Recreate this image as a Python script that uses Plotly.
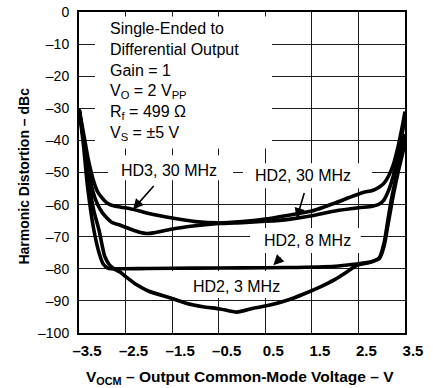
import plotly.graph_objects as go

# ---------------- data ----------------
vocm_hd3_30 = [-3.5, -3.4, -3.3, -3.2, -3.1, -3.0, -2.9, -2.8, -2.6, -2.4, -2.2, -2.0, -1.5, -1.0,
               -0.5, 0.0, 0.5, 1.0, 1.5, 2.0, 2.3, 2.6, 2.8, 2.95, 3.05, 3.15, 3.25, 3.35, 3.45, 3.5]
hd3_30 = [-30, -38, -46, -52, -56, -58, -59.5, -60.2, -60.8, -61.3, -62.0, -62.8, -64.2, -65.3,
          -65.7, -65.3, -64.5, -63.3, -62.0, -59.5, -57.8, -56.2, -55.6, -54.5, -53.3, -51, -47.5,
          -42, -35, -31]

vocm_hd2_30 = [-3.5, -3.4, -3.3, -3.2, -3.1, -3.0, -2.9, -2.8, -2.6, -2.4, -2.2, -2.05, -1.9, -1.5,
               -1.0, -0.5, 0.0, 0.5, 1.0, 1.5, 2.0, 2.5, 2.8, 2.95, 3.05, 3.15, 3.25, 3.35, 3.45, 3.5]
hd2_30 = [-30, -40, -49, -56, -60, -62.5, -64.2, -65.5, -66.5, -67.6, -68.6, -69.0, -68.8, -67.6,
          -66.6, -65.9, -65.6, -65.2, -64.6, -63.5, -62.0, -61.0, -60.5, -59.8, -58.5, -55.5, -51,
          -45, -37, -33]

vocm_hd2_8 = [-3.5, -3.4, -3.32, -3.18, -3.07, -2.98, -2.88, -2.8, -2.5, -2.0, -1.0, 0.0, 1.0, 2.0,
              2.4, 2.75, 2.95, 3.05, 3.12, 3.2, 3.3, 3.4, 3.5]
hd2_8 = [-30, -42, -54, -68, -75, -78.5, -79.8, -80, -80, -79.9, -79.8, -79.7, -79.6, -79.2,
         -78.6, -77.9, -76.5, -72, -66, -59, -52, -45.5, -38]

vocm_hd2_3 = [-3.5, -3.4, -3.28, -3.18, -3.07, -2.95, -2.86, -2.75, -2.62, -2.49, -2.26, -2.0, -1.55,
              -1.2, -0.84, -0.47, -0.11, 0.24, 0.6, 0.97, 1.3, 1.67, 2.0, 2.25, 2.47, 2.75, 2.95,
              3.05, 3.15, 3.25, 3.35, 3.45, 3.5]
hd2_3 = [-30, -40, -54, -62, -68, -76, -78.5, -80, -81, -82.5, -85, -87, -89, -90.7, -91.8, -92.5,
         -93.5, -92.3, -91.3, -89.8, -88, -85.7, -83.3, -81, -78.9, -78, -76.8, -73, -65, -57,
         -50, -44, -40]

x_ticks = [-3.5, -2.5, -1.5, -0.5, 0.5, 1.5, 2.5, 3.5]
x_tick_text = ["–3.5", "–2.5", "–1.5", "–0.5", "0.5", "1.5", "2.5", "3.5"]
y_ticks = [0, -10, -20, -30, -40, -50, -60, -70, -80, -90, -100]
y_tick_text = ["0", "–10", "–20", "–30", "–40", "–50", "–60", "–70", "–80", "–90", "–100"]

cond_lines = ["Single-Ended to", "Differential Output", "Gain = 1",
              "V<sub>O</sub> = 2 V<sub>PP</sub>", "R<sub>f</sub> = 499 Ω", "V<sub>S</sub> = ±5 V"]
cond_y = [-5.2, -11.7, -18.2, -24.7, -31.2, -37.7]

series_labels = ["HD3, 30 MHz", "HD2, 30 MHz", "HD2, 8 MHz", "HD2, 3 MHz"]
label_pos = [(-1.557, -49.3), (1.30, -50.9), (1.407, -71.1), (-0.118, -85.6)]
arrow_tips = [(-2.34, -61.5), (1.175, -64.3), (0.672, -78.9)]
arrow_tails_px = [(22, -25), (8, -27), (9, -9)]

# masking boxes (white areas behind text, hiding gridlines)
mask_boxes = [(-3.156, 0.644, -1.4, -42.5),
              (-2.877, -0.193, -44.6, -52.4),
              (0.022, 2.79, -47.1, -54.9),
              (0.172, 2.55, -67.3, -75.1),
              (-1.653, 1.203, -80.7, -89.1)]

FONT = "Liberation Sans, Arial, Helvetica, sans-serif"

fig = go.Figure()
for xs, ys in [(vocm_hd2_3, hd2_3), (vocm_hd2_8, hd2_8), (vocm_hd2_30, hd2_30), (vocm_hd3_30, hd3_30)]:
    fig.add_trace(go.Scatter(x=xs, y=ys, mode="lines",
                             line=dict(color="black", width=3.6, shape="spline", smoothing=0.6),
                             showlegend=False, hoverinfo="skip"))

for x0, x1, y0, y1 in mask_boxes:
    fig.add_shape(type="rect", xref="x", yref="y", x0=x0, x1=x1, y0=y0, y1=y1,
                  fillcolor="white", line=dict(width=0), layer="between")

anns = []
for t, yv in zip(cond_lines, cond_y):
    anns.append(dict(x=-2.877, y=yv, xref="x", yref="y", text=t, showarrow=False,
                     xanchor="left", yanchor="middle", font=dict(size=16, color="black", family=FONT)))
for t, (xv, yv) in zip(series_labels, label_pos):
    anns.append(dict(x=xv, y=yv, xref="x", yref="y", text=t, showarrow=False,
                     xanchor="center", yanchor="middle", font=dict(size=16, color="black", family=FONT)))
for (xv, yv), (ax, ay) in zip(arrow_tips, arrow_tails_px):
    anns.append(dict(x=xv, y=yv, xref="x", yref="y", ax=ax, ay=ay, text="", showarrow=True,
                     arrowhead=2, arrowsize=1.3, arrowwidth=1.6, arrowcolor="black"))

anns.append(dict(x=-0.169, y=0.49, xref="paper", yref="paper", textangle=-90,
                 text="<b>Harmonic Distortion – dBc</b>", showarrow=False,
                 xanchor="center", yanchor="middle", font=dict(size=14, color="black", family=FONT)))
anns.append(dict(x=0.494, y=-0.140, xref="paper", yref="paper",
                 text="<b>V<sub>OCM</sub> – Output Common-Mode Voltage – V</b>", showarrow=False,
                 xanchor="center", yanchor="middle", font=dict(size=15.5, color="black", family=FONT)))

fig.update_layout(
    width=433, height=388,
    margin=dict(l=79, r=28, t=12, b=55, autoexpand=False),
    paper_bgcolor="white", plot_bgcolor="white",
    font=dict(family=FONT, color="black"),
    annotations=anns,
    xaxis=dict(range=[-3.5, 3.5], tickvals=x_ticks, ticktext=x_tick_text,
               tickfont=dict(size=15, family="Liberation Sans, Arial", weight="bold"),
               showgrid=True, gridcolor="#1a1a1a", gridwidth=1, zeroline=False,
               showline=True, linecolor="black", linewidth=2, mirror=True, automargin=False,
               ticks="", ticklabelstandoff=3, ticklabelshift=8, fixedrange=True),
    yaxis=dict(range=[-100, 0], tickvals=y_ticks, ticktext=y_tick_text,
               tickfont=dict(size=14, family=FONT), automargin=False,
               showgrid=True, gridcolor="#1a1a1a", gridwidth=1, zeroline=False,
               showline=True, linecolor="black", linewidth=2, mirror=True,
               ticks="", ticklabelstandoff=5, fixedrange=True),
)

fig.write_html("out.html", config={"displayModeBar": False},
               post_script="document.body.style.margin='0';document.body.style.padding='0';"
                           "document.body.style.overflow='hidden';")
